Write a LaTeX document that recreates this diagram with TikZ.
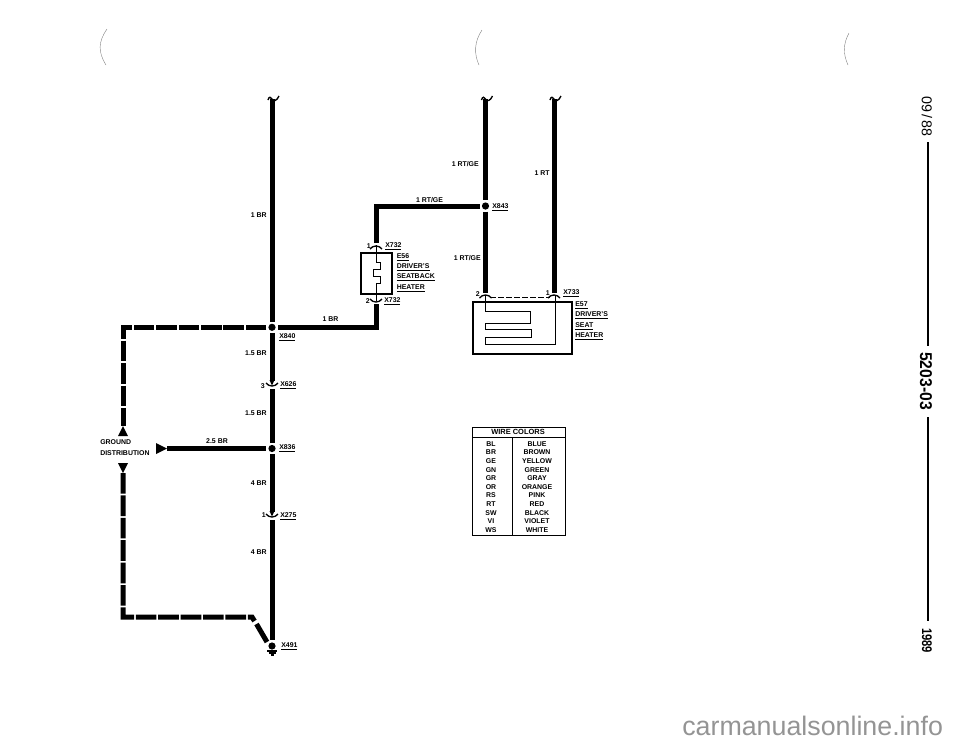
\documentclass[tikz,border=0pt]{standalone}
\usepackage{graphicx}
\usepackage{fontspec}
\setmainfont{Liberation Sans}
\tikzset{
  wire/.style={line width=3.75pt},
  gndwire/.style={line width=3.75pt,dash pattern=on 15.5pt off 1.3pt},
  box/.style={line width=1pt},
  thin wire/.style={line width=0.7pt},
  arm/.style={line width=1pt},
  dot/.style={circle,fill=black,minimum size=5.4pt,outer sep=1.5pt,inner sep=0pt},
  lab/.style={inner sep=0pt,font=\bfseries\fontsize{5.2}{6}\selectfont},
  labl/.style={lab,anchor=west},
  labr/.style={lab,anchor=east},
  tab/.style={lab},
  squig/.pic={\draw[arm] (-4,1) .. controls (-3,-3) and (-1,-2) .. (0,0) .. controls (1,3) and (5,2) .. (7,-3);},
  cap/.pic={\draw[arm] (-6,3) .. controls (-3,-1) and (3,-1) .. (6,3);},
  cup/.pic={\draw[arm] (-6,-3) .. controls (-3,1) and (3,1) .. (6,-3);}
}
\begin{document}
\begin{tikzpicture}[x=0.75pt,y=-0.75pt]
  \useasboundingbox (0,0) rectangle (960,744);
  \draw[gray,line width=0.3pt] (107,29) .. controls (98,42) and (98,52) .. (106,65);
  \draw[gray,line width=0.3pt] (482,30) .. controls (474,42) and (474,54) .. (479,65);
  \draw[gray,line width=0.3pt] (849,33) .. controls (843,44) and (843,54) .. (848,65);
  \coordinate (brtop) at (272,99);
  \coordinate (rgtop) at (485.5,99);
  \coordinate (rttop) at (554,99);
  \coordinate (gndcnr) at (123,327.3);
  \coordinate (gndup) at (123,426);
  \coordinate (gnddn) at (123,473);
  \coordinate (gndlow) at (123,617);
  \coordinate (gndbend) at (252,617);
  \coordinate (gndcut) at (254.5,621);
  \coordinate (gnddiag) at (256.5,624);
  \coordinate (gndend) at (267,642);
  \coordinate (distr) at (167,448.5);
  \coordinate (e56top) at (376,243);
  \coordinate (e56cnr) at (376,206);
  \coordinate (e56bot) at (376,304);
  \coordinate (e56low) at (376,327.3);
  \coordinate (e57l) at (485.5,293);
  \coordinate (e57r) at (554,293);
  \coordinate (xa) at (272,381);
  \coordinate (xb) at (272,389);
  \coordinate (xc) at (272,512);
  \coordinate (xd) at (272,520);
  \coordinate (sidea) at (928,142);
  \coordinate (sideb) at (928,346);
  \coordinate (sidec) at (928,417);
  \coordinate (sided) at (928,621);
  \node[dot] (x840) at (272,327.3) {};
  \node[dot] (x843) at (485.5,206) {};
  \node[dot] (x836) at (272,448.5) {};
  \node[dot] (x491) at (272,646) {};
  \draw[wire] (brtop) -- (x840);
  \draw[wire] (x840) -- (xa);
  \draw[wire] (xb) -- (x836);
  \draw[wire] (x836) -- (xc);
  \draw[wire] (xd) -- (x491);
  \draw[wire] (rgtop) -- (x843);
  \draw[wire] (x843) -- (e57l);
  \draw[wire] (rttop) -- (e57r);
  \draw[wire] (x843) -- (e56cnr) -- (e56top);
  \draw[wire] (e56bot) -- (e56low) -- (x840);
  \draw[wire] (distr) -- (x836);
  \draw[gndwire] (x840) -- (gndcnr) -- (gndup);
  \draw[gndwire] (gnddn) -- (gndlow) -- (gndbend) -- (gndcut);
  \draw[wire] (gnddiag) -- (gndend);
  \fill (118,436) -- (gndup) -- (128,436) -- cycle;
  \fill (118,463) -- (gnddn) -- (128,463) -- cycle;
  \fill (156,443) -- (distr) -- (156,454) -- cycle;
  \fill (269.5,380) -- (274.5,380) -- (272,385.5) -- cycle;
  \fill (269.5,511) -- (274.5,511) -- (272,516.5) -- cycle;
  \draw[arm] (267,651) -- (277,651);
  \draw[arm] (268.5,653) -- (275.5,653);
  \draw[arm] (270.5,655) -- (273.5,655);
  \pic at (brtop) {squig};
  \pic at (rgtop) {squig};
  \pic at (rttop) {squig};
  \pic at (272,386) {cup};
  \pic at (272,517) {cup};
  \pic at (376,246) {cap};
  \pic at (376,302) {cup};
  \pic at (485.5,295) {cap};
  \pic at (554,295) {cap};
  \draw[box] (361,253) rectangle (392,294);
  \draw[thin wire] (376.5,245) -- (376.5,262) -- (380,262) -- (380,269) -- (373,269) -- (373,276) -- (380,276) -- (380,283) -- (376.5,283) -- (376.5,301);
  \draw[box] (473,302) rectangle (572,354);
  \draw[thin wire,dash pattern=on 4.5pt off 1.5pt] (490,297) -- (550,297);
  \draw[thin wire] (485.7,295) -- (485.7,311.5) -- (530.7,311.5) -- (530.7,323.3) -- (485.7,323.3) -- (485.7,329.5) -- (531.3,329.5) -- (531.3,337.7) -- (485.7,337.7) -- (485.7,344.5) -- (555,344.5) -- (555,295);
  \node[labr] (br1) at (267,215) {1 BR};
  \node[lab] (br2) at (330.5,319) {1 BR};
  \node[labr] (rg1) at (479,164) {1 RT/GE};
  \node[labr] (rt1) at (550,173) {1 RT};
  \node[lab] (rg2) at (429.5,200) {1 RT/GE};
  \node[labr] (rg3) at (481,258) {1 RT/GE};
  \node[labl] (n843) at (492,207) {\underline{X843}};
  \node[labr] (p1a) at (371,246) {1};
  \node[labl] (n732a) at (385,246) {\underline{X732}};
  \node[labl] (e56) at (396.5,257) {\underline{E56}};
  \node[labl] (e56b) at (396.5,267) {\underline{DRIVER'S}};
  \node[labl] (e56c) at (396.5,277.5) {\underline{SEATBACK}};
  \node[labl] (e56d) at (396.5,288) {\underline{HEATER}};
  \node[labr] (p2a) at (370,301) {2};
  \node[labl] (n732b) at (384,301) {\underline{X732}};
  \node[labr] (p2b) at (480,294) {2};
  \node[labr] (p1b) at (550,293.5) {1};
  \node[labl] (n733) at (563,293.5) {\underline{X733}};
  \node[labl] (e57) at (575,305) {\underline{E57}};
  \node[labl] (e57b) at (575,315.5) {\underline{DRIVER'S}};
  \node[labl] (e57c) at (575,326) {\underline{SEAT}};
  \node[labl] (e57d) at (575,336) {\underline{HEATER}};
  \node[labl] (n840) at (279,337) {\underline{X840}};
  \node[labr] (br3) at (267,353) {1.5 BR};
  \node[labr] (p3) at (265,386) {3};
  \node[labl] (n626) at (280,385) {\underline{X626}};
  \node[labr] (br4) at (267,413) {1.5 BR};
  \node[lab] (br5) at (217,441) {2.5 BR};
  \node[labl] (n836) at (279,448) {\underline{X836}};
  \node[labl] (gnd) at (100,442) {GROUND};
  \node[labl] (dist) at (100,453) {DISTRIBUTION};
  \node[labr] (br6) at (267,483) {4 BR};
  \node[labr] (p1c) at (266,515) {1};
  \node[labl] (n275) at (280,516) {\underline{X275}};
  \node[labr] (br7) at (267,552) {4 BR};
  \node[labl] (n491) at (281,646) {\underline{X491}};
  \draw[line width=0.7pt] (472,427) rectangle (565,535);
  \draw[line width=0.7pt] (472,437) -- (565,437);
  \draw[line width=0.7pt] (512,437) -- (512,535);
  \node[tab,font=\bfseries\fontsize{5.6}{6}\selectfont] (wc) at (518,432) {WIRE COLORS};
  \node[tab] (bl) at (491,444) {BL};
  \node[tab] (blue) at (537,444) {BLUE};
  \node[tab] (brn) at (491,452.6) {BR};
  \node[tab] (brown) at (537,452.6) {BROWN};
  \node[tab] (ge) at (491,461.2) {GE};
  \node[tab] (yellow) at (537,461.2) {YELLOW};
  \node[tab] (gn) at (491,469.8) {GN};
  \node[tab] (green) at (537,469.8) {GREEN};
  \node[tab] (gr) at (491,478.4) {GR};
  \node[tab] (gray) at (537,478.4) {GRAY};
  \node[tab] (or) at (491,487) {OR};
  \node[tab] (orange) at (537,487) {ORANGE};
  \node[tab] (rs) at (491,495.6) {RS};
  \node[tab] (pink) at (537,495.6) {PINK};
  \node[tab] (rt) at (491,504.2) {RT};
  \node[tab] (red) at (537,504.2) {RED};
  \node[tab] (sw) at (491,512.8) {SW};
  \node[tab] (black) at (537,512.8) {BLACK};
  \node[tab] (vi) at (491,521.4) {VI};
  \node[tab] (violet) at (537,521.4) {VIOLET};
  \node[tab] (ws) at (491,530) {WS};
  \node[tab] (white) at (537,530) {WHITE};
  \node[rotate=-90,inner sep=0pt,font=\fontsize{10.7}{12}\selectfont] (date) at (927,116.5) {\spaceskip=0.12em 09 / 88};
  \node[rotate=-90,inner sep=0pt,font=\bfseries\fontsize{12.8}{14}\selectfont] (page) at (926,381) {\scalebox{0.92}[1]{5203-03}};
  \node[rotate=-90,inner sep=0pt,font=\bfseries\fontsize{10.5}{12}\selectfont] (year) at (927,640.5) {\scalebox{0.8}[1]{1989}};
  \draw[line width=1.4pt] (sidea) -- (sideb);
  \draw[line width=1.4pt] (sidec) -- (sided);
  \node[anchor=base west,inner sep=0pt,text=black!42,font=\fontsize{20.1}{24}\selectfont] (site) at (682,735) {carmanualsonline.info};
\end{tikzpicture}
\end{document}
